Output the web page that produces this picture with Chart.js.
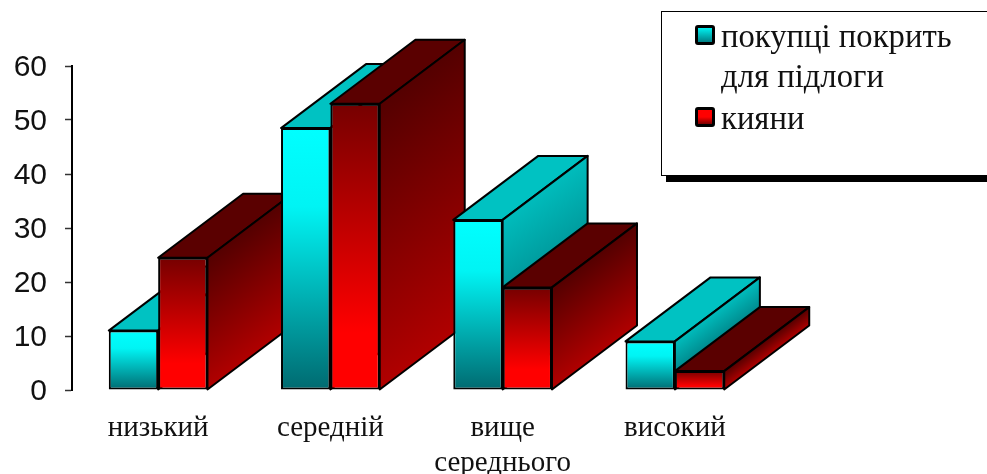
<!DOCTYPE html>
<html>
<head>
<meta charset="utf-8">
<style>
  html, body { margin: 0; padding: 0; background: #fff; }
  #wrap { position: relative; width: 987px; height: 474px; overflow: hidden; }
  #legend { position: absolute; left: 661px; top: 11px; width: 340px; height: 163px; border: 1px solid #000;
    box-shadow: 5px 6px 0 #000; background: #fff; font-family: "Liberation Serif", serif; font-size: 32.7px; color: #111; }
  .row { position: absolute; left: 59px; line-height: 40px; white-space: pre; }
  .box { position: absolute; left: -26px; top: 9px; width: 14px; height: 14px; border: 3px solid #000; border-radius: 3px; }
</style>
</head>
<body>
<div id="wrap">
  <canvas id="myChart" width="987" height="474"></canvas>
  <div id="legend"></div>
</div>
<script src="https://cdn.jsdelivr.net/npm/chart.js@4"></script>
<script>
const categories = ["низький", "середній", ["вище", "середнього"], "високий"]
const buyers = [11, 48.5, 31.5, 9]
const kyivans = [24.5, 53, 19, 3.5]
const yTicks = [0, 10, 20, 30, 40, 50, 60]
const seriesNames = [["покупці покрить", "для підлоги"], ["кияни"]]

const depthX = 85
const depthY = 64

const looks = [
    {
        front: [[0, '#00ffff'], [0.3, '#00f4f4'], [1, '#006a70']],
        top: '#00c2c2',
        side: [[0, '#00bcbc'], [1, '#006e74']],
        legend: 'linear-gradient(#00f0f0, #007f85)',
    },
    {
        front: [[0, '#760000'], [0.8, '#ff0000'], [1, '#ff0000']],
        top: '#5a0000',
        side: [[0, '#540000'], [1, '#b00000']],
        legend: 'linear-gradient(#ff0000 50%, #7a0000)',
    },
]

function stops(gradient, list) {
    list.forEach(s => gradient.addColorStop(s[0], s[1]))
    return gradient
}

// передня грань, градієнт на висоту стовпчика
function frontFill(look) {
    return (c) => {
        const y = c.chart.scales.y
        if (!y || c.raw === undefined) return look.front[0][1]
        const y0 = y.getPixelForValue(c.raw)
        const y1 = y.getPixelForValue(0)
        if (!isFinite(y0) || !isFinite(y1)) return look.front[0][1]
        return stops(c.chart.ctx.createLinearGradient(0, y0, 0, y1), look.front)
    }
}

// верх і бік стовпчика малюються до самих стовпчиків
const depthFaces = {
    id: 'depthFaces',
    beforeDatasetsDraw(chart) {
        const ctx = chart.ctx
        const metas = [chart.getDatasetMeta(0), chart.getDatasetMeta(1)]
        ctx.save()
        ctx.strokeStyle = '#000'
        ctx.lineWidth = 2
        ctx.lineJoin = 'round'
        categories.forEach((cat, i) => {
            metas.forEach((meta, s) => {
                const bar = meta.data[i]
                const left = bar.x - bar.width / 2
                const right = bar.x + bar.width / 2
                const h = bar.base - bar.y
                ctx.beginPath()
                ctx.moveTo(left, bar.y)
                ctx.lineTo(left + depthX, bar.y - depthY)
                ctx.lineTo(right + depthX, bar.y - depthY)
                ctx.lineTo(right, bar.y)
                ctx.closePath()
                ctx.fillStyle = looks[s].top
                ctx.fill()
                ctx.stroke()
                ctx.beginPath()
                ctx.moveTo(right, bar.y)
                ctx.lineTo(right + depthX, bar.y - depthY)
                ctx.lineTo(right + depthX, bar.base - depthY)
                ctx.lineTo(right, bar.base)
                ctx.closePath()
                // ізолінії паралельні ребру глибини
                ctx.fillStyle = stops(ctx.createLinearGradient(right, bar.y, right + 0.48 * h, bar.y + 0.64 * h), looks[s].side)
                ctx.fill()
                ctx.stroke()
            })
        })
        ctx.restore()
    },
}

new Chart(document.getElementById('myChart'), {
    type: 'bar',
    plugins: [depthFaces],
    data: {
        labels: categories,
        datasets: [
            { label: seriesNames[0].join(' '), data: buyers, backgroundColor: frontFill(looks[0]), borderColor: '#000', borderWidth: 2, borderSkipped: false, clip: false },
            { label: seriesNames[1].join(' '), data: kyivans, backgroundColor: frontFill(looks[1]), borderColor: '#000', borderWidth: 2, borderSkipped: false, clip: false },
        ],
    },
    options: {
        responsive: false,
        animation: false,
        categoryPercentage: 0.573,
        barPercentage: 1,
        layout: { padding: { top: 66, right: 226, left: 0, bottom: 0 } },
        plugins: { legend: { display: false }, tooltip: { enabled: false } },
        scales: {
            x: {
                grid: { display: false },
                border: { display: false },
                afterFit(s) { s.height = 84 },
                ticks: {
                    maxRotation: 0,
                    autoSkip: false,
                    padding: 13,
                    color: '#111',
                    font: { family: '"Liberation Serif", serif', size: 29 },
                },
            },
            y: {
                min: 0,
                max: 60,
                afterBuildTicks(s) { s.ticks = yTicks.map(v => ({ value: v })) },
                afterFit(s) { s.width = 72 },
                border: { color: '#000', width: 2 },
                grid: { drawOnChartArea: false, tickLength: 7, color: '#333', tickWidth: 1.5 },
                ticks: {
                    padding: 18,
                    labelOffset: 2,
                    color: '#111',
                    font: { family: '"Liberation Sans", sans-serif', size: 30 },
                },
            },
        },
    },
})

const legend = document.getElementById('legend')
const rowTops = [4, 44, 86]
let line = 0
seriesNames.forEach((lines, s) => {
    lines.forEach((text, n) => {
        const row = document.createElement('div')
        row.className = 'row'
        row.style.top = rowTops[line++] + 'px'
        row.textContent = text
        if (n === 0) {
            const box = document.createElement('span')
            box.className = 'box'
            box.style.background = looks[s].legend
            row.appendChild(box)
        }
        legend.appendChild(row)
    })
})
</script>
</body>
</html>
